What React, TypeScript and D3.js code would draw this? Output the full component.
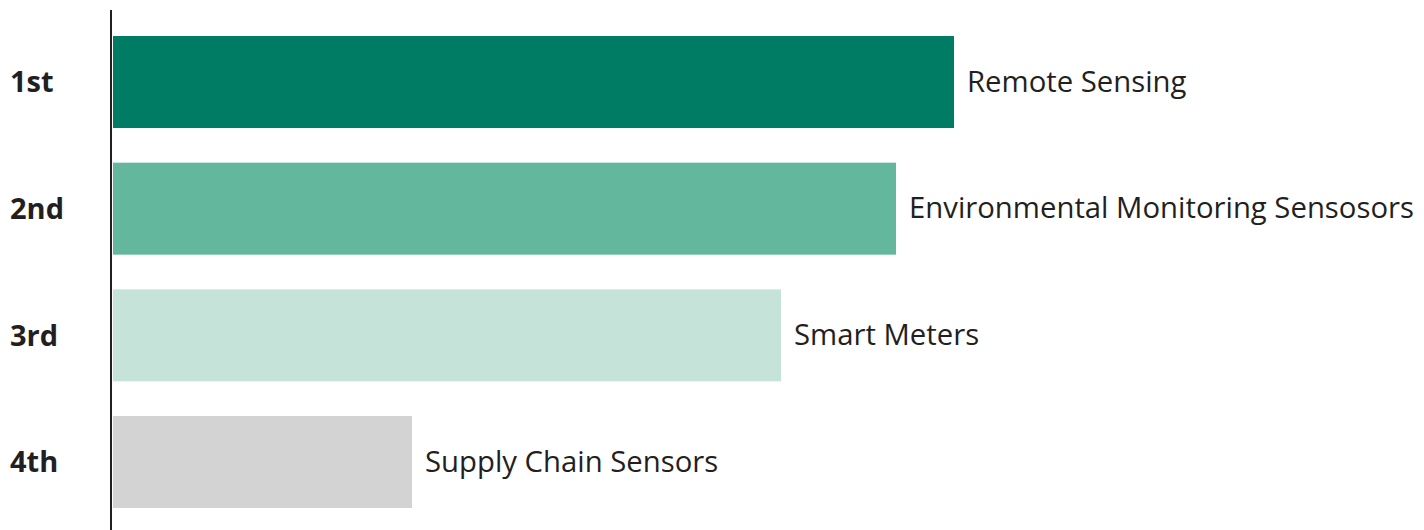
import React from "react";
import * as d3 from "d3";

const ranks = ["1st", "2nd", "3rd", "4th"];
const categories = ["Remote Sensing", "Environmental Monitoring Sensosors", "Smart Meters", "Supply Chain Sensors"];
const values = [84.1, 78.3, 66.8, 29.9];
const colors = ["#007C64", "#63B79C", "#C6E3DA", "#D3D3D3"];

const W = 1424;
const H = 530;

export default function App() {
  const x = d3.scaleLinear().domain([0, 100]).range([113, 1113]);
  const y = d3.scaleBand<string>().domain(ranks).range([36, 508]).paddingInner(0.2737).paddingOuter(0);
  const font = "'Segoe UI', 'Open Sans', sans-serif";
  return (
    <svg width={W} height={H} style={{ position: "absolute", left: 0, top: 0, background: "#fff" }}>
      {ranks.map((r, i) => {
        const top = y(r) ?? 0;
        const bh = y.bandwidth();
        const cy = top + bh / 2;
        return (
          <g key={r}>
            <rect x={x(0)} y={top} width={x(values[i]) - x(0)} height={bh} fill={colors[i]} />
            <text x={x(values[i]) + 13} y={cy} dy="0.33em" fontFamily={font} fontSize={29.3} fill="#231F20">
              {categories[i]}
            </text>
            <text x={10} y={cy} dy="0.36em" fontFamily={font} fontSize={29} fontWeight="bold" fill="#231F20">
              {r}
            </text>
          </g>
        );
      })}
      <line x1={111} x2={111} y1={10} y2={H} stroke="#231F20" strokeWidth={2} />
    </svg>
  );
}
